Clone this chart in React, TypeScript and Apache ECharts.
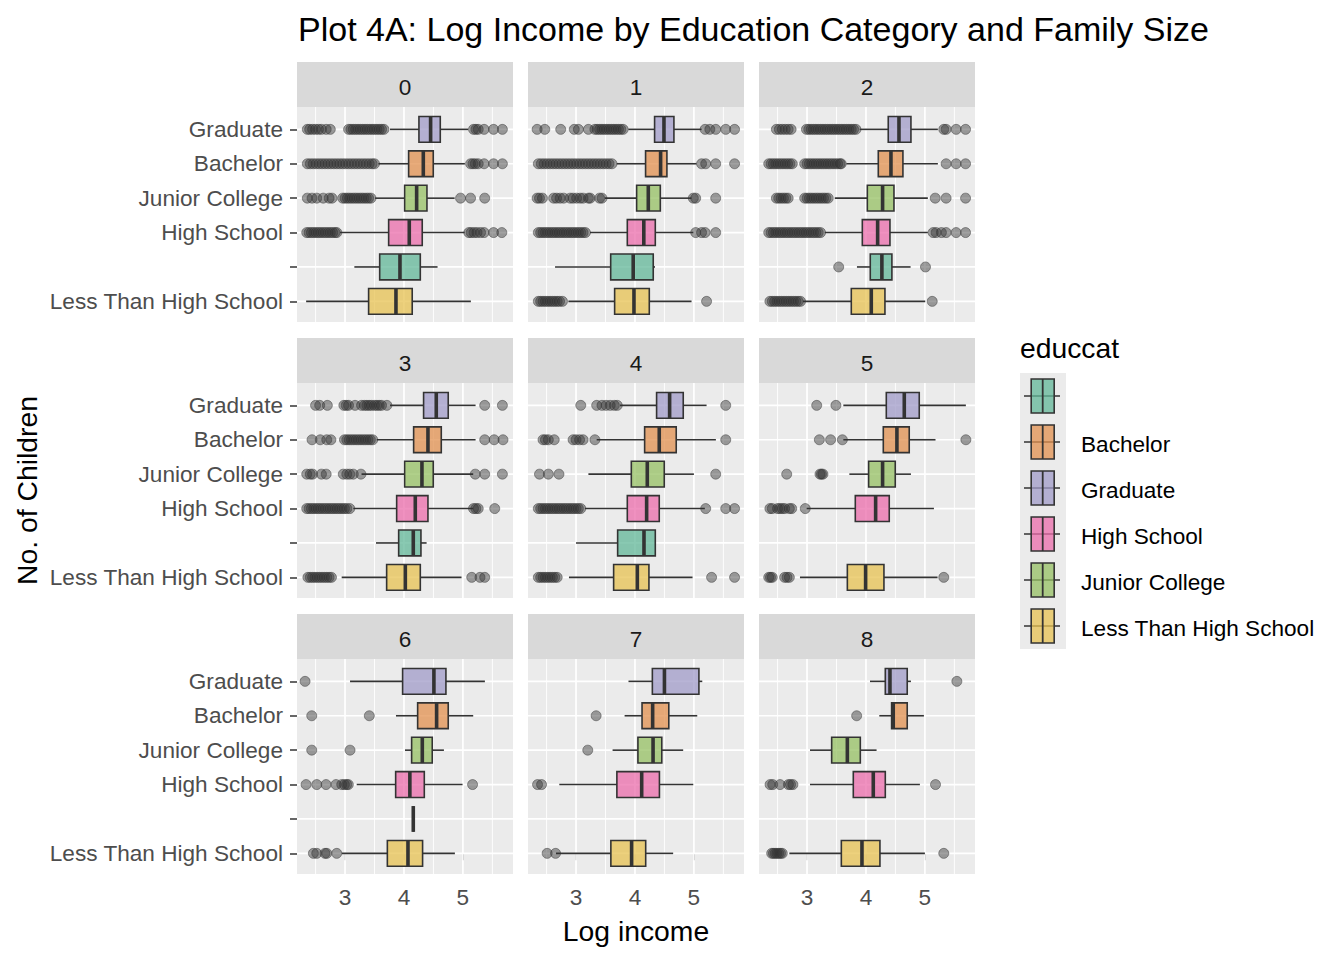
import React, { useEffect, useRef } from 'react';
import * as echarts from 'echarts';

const FONT = "'Liberation Sans', Arial, Helvetica, sans-serif";

// y-axis order (bottom -> top)
const yCategories = ['Less Than High School', '', 'High School', 'Junior College', 'Bachelor', 'Graduate'];
// legend (factor) order
const legendLevels = ['', 'Bachelor', 'Graduate', 'High School', 'Junior College', 'Less Than High School'];
const levelColors = [
  'rgba(98,183,152,0.75)',
  'rgba(226,144,79,0.75)',
  'rgba(160,155,200,0.75)',
  'rgba(235,108,171,0.75)',
  'rgba(150,192,99,0.75)',
  'rgba(231,194,82,0.75)',
];
// legend level index of each y category
const categoryLevelIndex = [5, 0, 3, 4, 1, 2];
const panelLabels = ['0', '1', '2', '3', '4', '5', '6', '7', '8'];
const xTicks = [3, 4, 5];
const xMinorGrid = [2.5, 3.5, 4.5, 5.5];
const xMin = 2.185;
const xMax = 5.85;

// box statistics: [lower whisker, q1, median, q3, upper whisker], in yCategories order
const stats0 = [
  [2.34, 3.4, 3.864, 4.14, 5.135],
  [3.158, 3.588, 3.932, 4.277, 4.57],
  [2.915, 3.74, 4.09, 4.31, 5.03],
  [3.51, 4.011, 4.215, 4.39, 4.86],
  [3.565, 4.079, 4.328, 4.497, 5.034],
  [3.763, 4.254, 4.452, 4.616, 5.09],
];
const stats1 = [
  [2.87, 3.655, 3.983, 4.243, 4.96],
  [2.644, 3.588, 3.97, 4.31, 4.34],
  [3.237, 3.87, 4.15, 4.345, 4.99],
  [3.49, 4.028, 4.226, 4.43, 4.96],
  [3.69, 4.18, 4.435, 4.542, 5.045],
  [3.887, 4.333, 4.492, 4.661, 5.13],
];
const stats2 = [
  [2.93, 3.751, 4.09, 4.322, 5.006],
  [3.847, 4.073, 4.27, 4.44, 4.757],
  [3.3, 3.938, 4.198, 4.407, 5.05],
  [3.47, 4.023, 4.282, 4.475, 5.05],
  [3.667, 4.209, 4.424, 4.627, 5.22],
  [3.893, 4.378, 4.56, 4.763, 5.22],
];
const stats3 = [
  [2.943, 3.706, 4.023, 4.277, 4.977],
  [3.525, 3.91, 4.158, 4.288, 4.384],
  [3.14, 3.876, 4.192, 4.407, 5.175],
  [3.28, 4.011, 4.305, 4.497, 5.175],
  [3.537, 4.164, 4.407, 4.633, 5.215],
  [3.763, 4.333, 4.548, 4.751, 5.215],
];
const stats4 = [
  [2.88, 3.638, 4.04, 4.237, 4.977],
  [3.0, 3.706, 4.153, 4.345, 4.345],
  [3.15, 3.87, 4.198, 4.412, 5.186],
  [3.21, 3.938, 4.209, 4.497, 5.0],
  [3.35, 4.164, 4.412, 4.7, 5.373],
  [3.746, 4.367, 4.588, 4.819, 5.215],
];
const stats5 = [
  [2.88, 3.684, 3.994, 4.305, 5.215],
  null,
  [2.994, 3.819, 4.164, 4.395, 5.153],
  [3.718, 4.045, 4.282, 4.497, 4.763],
  [3.616, 4.294, 4.525, 4.734, 5.18],
  [3.616, 4.345, 4.65, 4.904, 5.695],
];
const stats6 = [
  [2.944, 3.718, 4.068, 4.316, 4.864],
  [4.158, 4.158, 4.158, 4.158, 4.158],
  [3.198, 3.859, 4.1, 4.345, 4.994],
  [4.017, 4.13, 4.311, 4.48, 4.678],
  [3.864, 4.232, 4.554, 4.751, 5.175],
  [3.085, 3.977, 4.508, 4.712, 5.373],
];
const stats7 = [
  [2.66, 3.591, 3.943, 4.182, 4.648],
  null,
  [2.716, 3.693, 4.114, 4.415, 4.989],
  [3.62, 4.05, 4.307, 4.455, 4.818],
  [3.824, 4.12, 4.3, 4.574, 5.057],
  [3.89, 4.295, 4.5, 5.085, 5.142],
];
const stats8 = [
  [2.7, 3.582, 3.932, 4.237, 5.0],
  null,
  [3.05, 3.785, 4.124, 4.328, 4.915],
  [3.05, 3.418, 3.684, 3.904, 4.18],
  [4.226, 4.435, 4.463, 4.7, 4.983],
  [4.068, 4.328, 4.407, 4.7, 4.763],
];

// outliers, in yCategories order
const outliers0 = [
  [],
  [],
  [2.35, 2.39, 2.43, 2.47, 2.51, 2.55, 2.59, 2.63, 2.67, 2.71, 2.75, 2.79, 2.83, 2.86, 5.1, 5.14, 5.19, 5.24, 5.3, 5.36, 5.52, 5.66],
  [2.36, 2.44, 2.52, 2.63, 2.73, 2.78, 2.96, 3.0, 3.04, 3.08, 3.12, 3.16, 3.2, 3.24, 3.28, 3.32, 3.36, 3.4, 3.44, 4.96, 5.13, 5.37],
  [2.36, 2.41, 2.46, 2.51, 2.56, 2.61, 2.66, 2.71, 2.76, 2.81, 2.86, 2.91, 2.96, 3.01, 3.06, 3.11, 3.16, 3.21, 3.26, 3.31, 3.36, 3.41, 3.46, 3.5, 5.13, 5.17, 5.21, 5.26, 5.36, 5.52, 5.67],
  [2.36, 2.4, 2.45, 2.5, 2.55, 2.6, 2.68, 2.75, 3.06, 3.1, 3.14, 3.18, 3.22, 3.26, 3.3, 3.34, 3.38, 3.42, 3.46, 3.5, 3.54, 3.58, 3.62, 3.66, 5.18, 5.22, 5.26, 5.36, 5.52, 5.67],
];
const outliers1 = [
  [2.36, 2.4, 2.44, 2.48, 2.52, 2.56, 2.6, 2.64, 2.68, 2.72, 2.77, 5.215],
  [],
  [2.36, 2.4, 2.44, 2.48, 2.52, 2.56, 2.6, 2.64, 2.68, 2.72, 2.76, 2.8, 2.84, 2.88, 2.92, 2.96, 3.0, 3.04, 3.08, 3.12, 3.16, 5.03, 5.13, 5.19, 5.37],
  [2.34, 2.38, 2.43, 2.62, 2.67, 2.73, 2.79, 2.9, 2.95, 3.01, 3.07, 3.12, 3.21, 3.24, 3.4, 3.44, 4.99, 5.03, 5.37],
  [2.36, 2.41, 2.46, 2.51, 2.56, 2.61, 2.66, 2.71, 2.76, 2.81, 2.86, 2.91, 2.96, 3.01, 3.06, 3.11, 3.16, 3.21, 3.26, 3.31, 3.36, 3.41, 3.46, 3.51, 3.56, 3.61, 5.13, 5.2, 5.37, 5.69],
  [2.34, 2.47, 2.74, 2.97, 3.04, 3.21, 3.32, 3.36, 3.4, 3.44, 3.48, 3.52, 3.56, 3.6, 3.64, 3.68, 3.72, 3.76, 3.8, 5.19, 5.27, 5.37, 5.54, 5.69],
];
const outliers2 = [
  [2.37, 2.41, 2.45, 2.49, 2.53, 2.57, 2.61, 2.65, 2.69, 2.73, 2.77, 2.81, 2.85, 2.89, 5.124],
  [3.537, 5.01],
  [2.35, 2.39, 2.43, 2.47, 2.51, 2.55, 2.59, 2.63, 2.67, 2.71, 2.75, 2.79, 2.83, 2.87, 2.91, 2.95, 2.99, 3.03, 3.07, 3.11, 3.15, 3.19, 3.23, 5.14, 5.19, 5.28, 5.36, 5.53, 5.69],
  [2.48, 2.52, 2.56, 2.6, 2.64, 2.68, 2.96, 3.0, 3.04, 3.08, 3.12, 3.16, 3.2, 3.24, 3.28, 3.32, 3.36, 5.175, 5.36, 5.69],
  [2.35, 2.39, 2.43, 2.47, 2.51, 2.55, 2.59, 2.63, 2.67, 2.71, 2.75, 2.96, 3.0, 3.04, 3.08, 3.12, 3.16, 3.2, 3.24, 3.28, 3.32, 3.36, 3.4, 3.44, 3.48, 3.52, 3.56, 3.58, 5.36, 5.53, 5.69],
  [2.48, 2.53, 2.58, 2.63, 2.68, 2.73, 2.99, 3.03, 3.07, 3.11, 3.15, 3.19, 3.23, 3.27, 3.31, 3.35, 3.39, 3.43, 3.47, 3.51, 3.55, 3.59, 3.63, 3.67, 3.71, 3.75, 3.79, 3.83, 5.32, 5.36, 5.53, 5.69],
];
const outliers3 = [
  [2.37, 2.41, 2.45, 2.49, 2.53, 2.57, 2.61, 2.65, 2.69, 2.73, 2.77, 5.15, 5.29, 5.37],
  [],
  [2.35, 2.39, 2.43, 2.47, 2.51, 2.55, 2.59, 2.63, 2.67, 2.71, 2.75, 2.79, 2.83, 2.87, 2.91, 2.95, 2.99, 3.03, 3.08, 5.18, 5.22, 5.26, 5.54],
  [2.35, 2.41, 2.45, 2.6, 2.68, 2.97, 3.03, 3.08, 3.14, 3.27, 5.21, 5.37, 5.67],
  [2.44, 2.58, 2.69, 2.76, 2.99, 3.03, 3.07, 3.11, 3.15, 3.19, 3.23, 3.27, 3.31, 3.35, 3.39, 3.43, 3.47, 5.37, 5.53, 5.68],
  [2.5, 2.57, 2.7, 2.98, 3.02, 3.06, 3.17, 3.28, 3.33, 3.37, 3.41, 3.45, 3.5, 3.54, 3.58, 3.62, 3.71, 5.37, 5.67],
];
const outliers4 = [
  [2.36, 2.4, 2.44, 2.48, 2.52, 2.56, 2.6, 2.64, 2.68, 5.3, 5.69],
  [],
  [2.36, 2.4, 2.44, 2.48, 2.52, 2.56, 2.6, 2.64, 2.68, 2.72, 2.76, 2.8, 2.84, 2.88, 2.92, 2.96, 3.0, 3.04, 3.08, 5.2, 5.54, 5.69],
  [2.38, 2.53, 2.71, 5.37],
  [2.44, 2.48, 2.53, 2.63, 2.95, 3.0, 3.06, 3.12, 3.32, 5.54],
  [3.08, 3.35, 3.44, 3.51, 3.58, 3.65, 3.7, 5.54],
];
const outliers5 = [
  [2.35, 2.38, 2.41, 2.62, 2.66, 2.7, 5.32],
  [],
  [2.37, 2.41, 2.5, 2.54, 2.58, 2.62, 2.7, 2.74, 2.97],
  [2.655, 3.22, 3.245, 3.27],
  [3.209, 3.4, 3.6, 5.695],
  [3.164, 3.49],
];
const outliers6 = [
  [2.463, 2.52, 2.66, 2.69, 2.859],
  [],
  [2.339, 2.52, 2.678, 2.847, 2.944, 2.989, 3.028, 3.056, 5.164],
  [2.435, 3.085],
  [2.435, 3.412],
  [2.322],
];
const outliers7 = [
  [2.51, 2.653],
  [],
  [2.347, 2.415],
  [3.199],
  [3.341],
  [],
];
const outliers8 = [
  [2.4, 2.43, 2.46, 2.49, 2.52, 2.55, 2.58, 5.32],
  [],
  [2.373, 2.418, 2.542, 2.684, 2.72, 2.76, 5.18],
  [],
  [3.842],
  [5.542],
];

const panelStats = [stats0, stats1, stats2, stats3, stats4, stats5, stats6, stats7, stats8];
const panelOutliers = [outliers0, outliers1, outliers2, outliers3, outliers4, outliers5, outliers6, outliers7, outliers8];

// layout (px)
const colLefts = [297, 528, 759];
const rowTops = [107, 383, 659];
const panelW = 216;
const panelH = 215;
const stripH = 45;
const yMin = -0.6;
const yMax = 5.65;

const INK = '#333333';
const AXIS_FS = 22.6;
const TITLE_FS = 28.3;

function buildOption() {
  const yTickValues = yCategories.map((_, i) => i);
  const grids: any[] = [];
  const xAxes: any[] = [];
  const yAxes: any[] = [];
  const series: any[] = [];
  const graphics: any[] = [];

  for (let p = 0; p < 9; p++) {
    const col = p % 3;
    const row = Math.floor(p / 3);
    const left = colLefts[col];
    const top = rowTops[row];
    grids.push({ left, top, width: panelW, height: panelH, show: true, backgroundColor: '#ebebeb', borderWidth: 0 });
    xAxes.push({
      gridIndex: p, type: 'value', min: xMin, max: xMax,
      axisLine: { show: false }, splitLine: { show: false },
      axisTick: { show: row === 2, customValues: xTicks, length: 7, lineStyle: { color: INK, width: 1.5 } },
      axisLabel: { show: row === 2, customValues: xTicks, color: '#4d4d4d', fontSize: AXIS_FS, fontFamily: FONT, margin: 12 },
    });
    yAxes.push({
      gridIndex: p, type: 'value', min: yMin, max: yMax,
      axisLine: { show: false }, splitLine: { show: false },
      axisTick: { show: col === 0, customValues: yTickValues, length: 7, lineStyle: { color: INK, width: 1.5 } },
      axisLabel: {
        show: col === 0, customValues: yTickValues, color: '#4d4d4d', fontSize: AXIS_FS, fontFamily: FONT, margin: 14,
        padding: [3, 0, 0, 0],
        formatter: (v: number) => yCategories[Math.round(v)] ?? '',
      },
    });

    // panel grid lines
    series.push({
      type: 'custom', xAxisIndex: p, yAxisIndex: p, z: 1, silent: true,
      data: [[xMin, yMin]],
      renderItem: (_params: any, api: any) => {
        const children: any[] = [];
        xMinorGrid.forEach((v) => {
          const a = api.coord([v, yMin]);
          const b = api.coord([v, yMax]);
          children.push({ type: 'line', shape: { x1: a[0], y1: a[1], x2: b[0], y2: b[1] }, style: { stroke: '#ffffff', lineWidth: 0.9 } });
        });
        xTicks.forEach((v) => {
          const a = api.coord([v, yMin]);
          const b = api.coord([v, yMax]);
          children.push({ type: 'line', shape: { x1: a[0], y1: a[1], x2: b[0], y2: b[1] }, style: { stroke: '#ffffff', lineWidth: 1.7 } });
        });
        yTickValues.forEach((v) => {
          const a = api.coord([xMin, v]);
          const b = api.coord([xMax, v]);
          children.push({ type: 'line', shape: { x1: a[0], y1: a[1], x2: b[0], y2: b[1] }, style: { stroke: '#ffffff', lineWidth: 1.7 } });
        });
        return { type: 'group', children };
      },
    });

    // outliers
    const pts: number[][] = [];
    panelOutliers[p].forEach((arr, ci) => arr.forEach((v) => pts.push([v, ci])));
    series.push({
      type: 'scatter', xAxisIndex: p, yAxisIndex: p, z: 2, silent: true,
      symbol: 'circle', symbolSize: 10, data: pts,
      itemStyle: { color: 'rgba(51,51,51,0.58)', borderColor: 'rgba(51,51,51,0.6)', borderWidth: 1 },
    });

    // boxes
    const boxData: any[] = [];
    panelStats[p].forEach((s, ci) => {
      if (s) boxData.push([ci, categoryLevelIndex[ci], ...s]);
    });
    series.push({
      type: 'custom', xAxisIndex: p, yAxisIndex: p, z: 3, silent: true,
      encode: { x: [2, 3, 4, 5, 6], y: 0 },
      data: boxData,
      renderItem: (_params: any, api: any) => {
        const y = api.value(0);
        const color = levelColors[api.value(1)];
        const lo = api.coord([api.value(2), y]);
        const q1 = api.coord([api.value(3), y]);
        const md = api.coord([api.value(4), y]);
        const q3 = api.coord([api.value(5), y]);
        const hi = api.coord([api.value(6), y]);
        const h = api.size([0, 1])[1] * 0.75;
        const cy = q1[1];
        return {
          type: 'group',
          children: [
            { type: 'line', shape: { x1: lo[0], y1: cy, x2: q1[0], y2: cy }, style: { stroke: INK, lineWidth: 1.6 } },
            { type: 'line', shape: { x1: q3[0], y1: cy, x2: hi[0], y2: cy }, style: { stroke: INK, lineWidth: 1.6 } },
            { type: 'rect', shape: { x: q1[0], y: cy - h / 2, width: q3[0] - q1[0], height: h }, style: { fill: color, stroke: INK, lineWidth: 1.6 } },
            { type: 'line', shape: { x1: md[0], y1: cy - h / 2, x2: md[0], y2: cy + h / 2 }, style: { stroke: INK, lineWidth: 3.6 } },
          ],
        };
      },
    });

    // strip
    graphics.push({ type: 'rect', left, top: top - stripH, shape: { x: 0, y: 0, width: panelW, height: stripH }, style: { fill: '#d9d9d9' }, silent: true });
    graphics.push({
      type: 'text', x: left + panelW / 2, y: top - stripH / 2 + 3,
      style: { text: panelLabels[p], fill: '#1a1a1a', fontSize: AXIS_FS, fontFamily: FONT, align: 'center', verticalAlign: 'middle' },
      silent: true,
    });
  }

  // axis titles
  graphics.push({
    type: 'text', x: (colLefts[0] + colLefts[2] + panelW) / 2, y: 931,
    style: { text: 'Log income', fill: '#000', fontSize: TITLE_FS, fontFamily: FONT, align: 'center', verticalAlign: 'middle' },
  });
  graphics.push({
    type: 'text', x: 27, y: (rowTops[0] + rowTops[2] + panelH) / 2, rotation: Math.PI / 2,
    style: { text: 'No. of Children', fill: '#000', fontSize: TITLE_FS, fontFamily: FONT, align: 'center', verticalAlign: 'middle' },
  });

  // legend
  const legX = 1020;
  const legTop = 373;
  const keyH = 46;
  const keyW = 46;
  graphics.push({
    type: 'text', x: legX, y: 348,
    style: { text: 'educcat', fill: '#000', fontSize: TITLE_FS, fontFamily: FONT, align: 'left', verticalAlign: 'middle' },
  });
  graphics.push({ type: 'rect', shape: { x: legX, y: legTop, width: keyW, height: keyH * legendLevels.length }, style: { fill: '#ebebeb' } });
  legendLevels.forEach((lvl, i) => {
    const cy = legTop + keyH * i + keyH / 2;
    const cx = legX + 22.7;
    graphics.push({ type: 'line', shape: { x1: legX + 4, y1: cy, x2: legX + 40, y2: cy }, style: { stroke: INK, lineWidth: 1.6 } });
    graphics.push({ type: 'rect', shape: { x: cx - 11.5, y: cy - 17, width: 23, height: 34 }, style: { fill: levelColors[i], stroke: INK, lineWidth: 1.6 } });
    graphics.push({ type: 'line', shape: { x1: cx, y1: cy - 17, x2: cx, y2: cy + 17 }, style: { stroke: INK, lineWidth: 1.8 } });
    graphics.push({
      type: 'text', x: 1081, y: cy + 2,
      style: { text: lvl, fill: '#000', fontSize: AXIS_FS, fontFamily: FONT, align: 'left', verticalAlign: 'middle' },
    });
  });

  return {
    animation: false,
    backgroundColor: '#ffffff',
    title: {
      text: 'Plot 4A: Log Income by Education Category and Family Size',
      left: 298, top: 12, padding: 0,
      textStyle: { fontSize: 34, fontWeight: 'normal', color: '#000', fontFamily: FONT },
    },
    grid: grids,
    xAxis: xAxes,
    yAxis: yAxes,
    series,
    graphic: graphics,
  };
}

export default function App() {
  const ref = useRef<HTMLDivElement>(null);
  useEffect(() => {
    if (!ref.current) return;
    const chart = echarts.init(ref.current, undefined, { renderer: 'svg' });
    chart.setOption(buildOption() as any);
    return () => chart.dispose();
  }, []);
  return <div ref={ref} style={{ position: 'fixed', left: 0, top: 0, width: 1344, height: 960, background: '#fff' }} />;
}
